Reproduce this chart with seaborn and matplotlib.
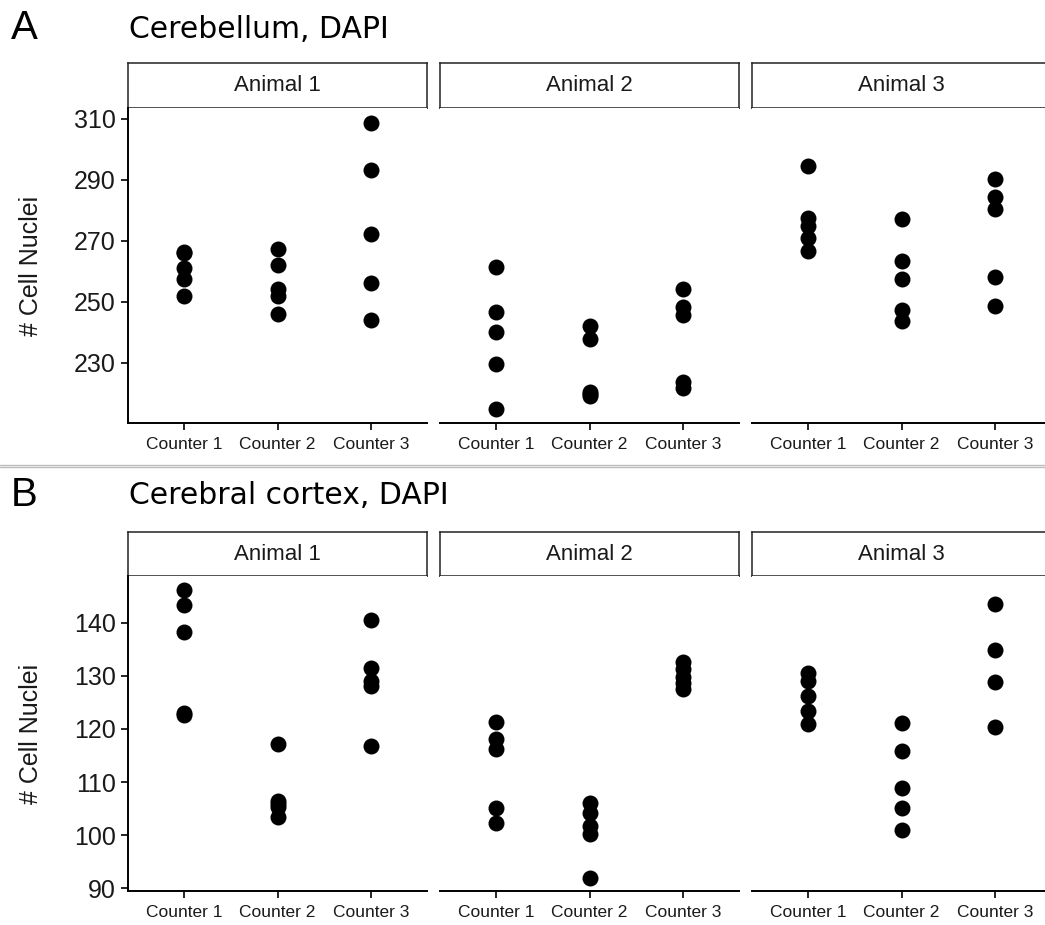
import matplotlib
matplotlib.use("Agg")
import matplotlib.pyplot as plt
import seaborn as sns
import pandas as pd
from matplotlib.lines import Line2D

# ---------------- data ----------------
counters = ["Counter 1", "Counter 2", "Counter 3"]
animals = ["Animal 1", "Animal 2", "Animal 3"]

# Cerebellum, DAPI  (per animal: Counter 1, Counter 2, Counter 3)
cereb_animal1 = [[266.5, 266.0, 261.0, 257.6, 252.1],
                 [267.4, 262.2, 254.3, 252.1, 246.2],
                 [308.7, 293.4, 272.2, 256.2, 244.2]]
cereb_animal2 = [[261.5, 246.6, 240.2, 229.6, 215.0],
                 [242.2, 237.7, 220.4, 219.8, 219.1],
                 [254.3, 248.3, 245.8, 223.7, 221.8]]
cereb_animal3 = [[294.5, 277.5, 274.8, 271.0, 266.8],
                 [277.2, 263.3, 257.5, 247.3, 243.7],
                 [290.4, 284.4, 280.6, 258.1, 248.6]]

# Cerebral cortex, DAPI
cortex_animal1 = [[146.2, 143.3, 138.2, 123.1, 122.7],
                  [117.2, 106.5, 105.9, 105.4, 103.4],
                  [140.6, 131.5, 129.1, 128.1, 116.8]]
cortex_animal2 = [[121.3, 118.2, 116.2, 105.1, 102.3],
                  [106.1, 104.2, 101.7, 100.3, 92.0],
                  [132.6, 131.2, 129.8, 128.6, 127.6]]
cortex_animal3 = [[130.5, 129.1, 126.3, 123.4, 120.9],
                  [121.1, 115.9, 108.9, 105.1, 101.0],
                  [143.6, 134.8, 128.9, 120.3]]

panel_titles = ["Cerebellum, DAPI", "Cerebral cortex, DAPI"]
panel_letters = ["A", "B"]
cereb_ticks = [230, 250, 270, 290, 310]
cortex_ticks = [90, 100, 110, 120, 130, 140]


def to_frame(per_animal):
    rows = []
    for animal, groups in zip(animals, per_animal):
        for counter, vals in zip(counters, groups):
            for v in vals:
                rows.append({"Animal": animal, "Counter": counter, "Nuclei": v})
    return pd.DataFrame(rows)


df_cereb = to_frame([cereb_animal1, cereb_animal2, cereb_animal3])
df_cortex = to_frame([cortex_animal1, cortex_animal2, cortex_animal3])

# ---------------- figure ----------------
sns.set_theme(style="white")
plt.rcParams["font.family"] = ["Liberation Sans", "DejaVu Sans"]

W, H = 1045, 925
fig = plt.figure(figsize=(W / 100, H / 100), dpi=100)
fig.patch.set_facecolor("white")


def fr(x0, y_top, w, h):
    return [x0 / W, 1 - (y_top + h) / H, w / W, h / H]


facet_x = [128, 440, 752]
facet_w = 299

panels = [
    dict(df=df_cereb, strip_top=63, ax_top=108, ax_bot=423,
         ylim=(210.3, 313.6), ticks=cereb_ticks, letter_y=28, title_y=30),
    dict(df=df_cortex, strip_top=532, ax_top=576, ax_bot=891,
         ylim=(89.5, 148.8), ticks=cortex_ticks, letter_y=495, title_y=496),
]

for p_i, p in enumerate(panels):
    for a_i, animal in enumerate(animals):
        x0 = facet_x[a_i]
        # strip header
        sax = fig.add_axes(fr(x0, p["strip_top"], facet_w, p["ax_top"] - p["strip_top"]))
        sax.set_xticks([]); sax.set_yticks([])
        sax.set_facecolor("white")
        for s in sax.spines.values():
            s.set_visible(True)
            s.set_color("#222222")
            s.set_linewidth(1.1)
        sax.text(0.5, 0.5, animal, ha="center", va="center", fontsize=16,
                 color="#1a1a1a", transform=sax.transAxes)

        ax = fig.add_axes(fr(x0, p["ax_top"], facet_w, p["ax_bot"] - p["ax_top"]))
        sub = p["df"][p["df"]["Animal"] == animal]
        sns.stripplot(data=sub, x="Counter", y="Nuclei", order=counters,
                      jitter=False, color="black", size=11.5, linewidth=0, ax=ax)
        ax.set_xlim(-0.6, 2.6)
        ax.set_ylim(*p["ylim"])
        ax.set_xlabel("")
        ax.set_facecolor("white")
        for side in ["top", "right"]:
            ax.spines[side].set_visible(False)
        ax.spines["bottom"].set_color("black")
        ax.spines["bottom"].set_linewidth(1.4)
        ax.tick_params(axis="x", which="both", bottom=True, length=5, width=1.2,
                       color="black", labelsize=12.5, labelcolor="#1a1a1a", pad=5)
        if a_i == 0:
            ax.spines["left"].set_color("black")
            ax.spines["left"].set_linewidth(1.4)
            ax.set_yticks(p["ticks"])
            ax.tick_params(axis="y", which="both", left=True, length=5, width=1.2,
                           color="black", labelsize=18, labelcolor="#1a1a1a", pad=4)
            ax.set_ylabel("# Cell Nuclei", fontsize=18, color="#1a1a1a", labelpad=22)
        else:
            ax.spines["left"].set_visible(False)
            ax.set_yticks([])
            ax.set_ylabel("")
        ax.grid(False)

    fig.text(11 / W, 1 - p["letter_y"] / H, panel_letters[p_i], fontsize=29,
             ha="left", va="center", color="black")
    fig.text(129 / W, 1 - p["title_y"] / H, panel_titles[p_i], fontsize=21.5,
             ha="left", va="center", color="black", family=["DejaVu Sans"])

# separator lines between the two panels
for yy in (464.5, 467.5):
    fig.add_artist(Line2D([0, 1], [1 - yy / H, 1 - yy / H], color="#bdbdbd",
                          linewidth=1.0, transform=fig.transFigure))

fig.savefig("out.png", dpi=100, facecolor="white")
